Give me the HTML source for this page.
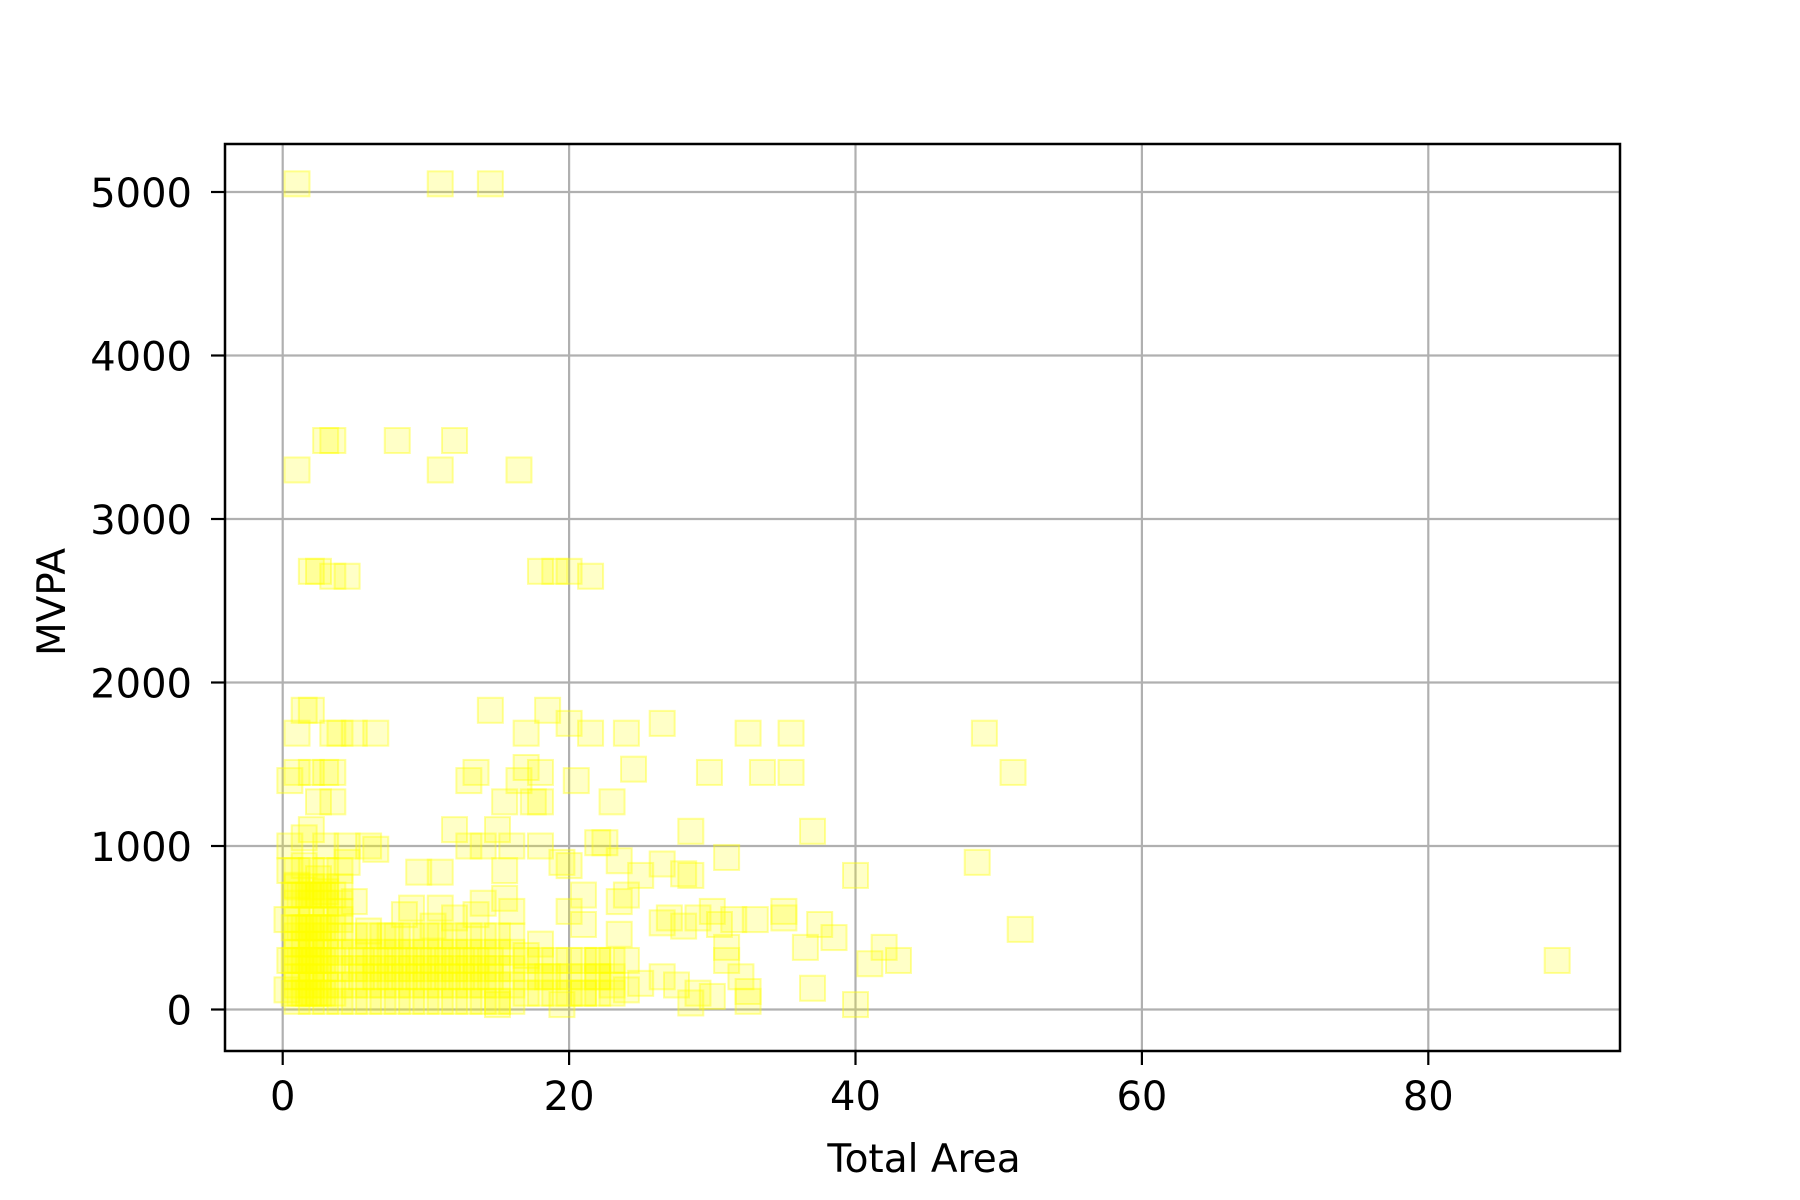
<!DOCTYPE html>
<html><head><meta charset="utf-8"><style>
body{margin:0;background:#fff;}
svg{display:block;font-family:"DejaVu Sans","Liberation Sans",sans-serif;}
</style></head><body>
<svg id="chart" width="1800" height="1200">
<g id="grid"></g>
<g id="marks"></g>
<rect x="225" y="144" width="1395" height="907" fill="none" stroke="#000" stroke-width="2.5"/>
<g id="ticks"></g>
<text x="924" y="1172" font-size="39" text-anchor="middle">Total Area</text>
<text x="0" y="0" font-size="39" text-anchor="middle" transform="translate(65,602) rotate(-90)">MVPA</text>
</svg>
<script>
const xTicks=[0,20,40,60,80];
const yTicks=[0,1000,2000,3000,4000,5000];
const xOut=[1,11,14.5,1,3,3.5,8,12,11,16.5,2,2.5,3.5,4.5,18,19,20,21.5,1.5,2,14.5,18.5,1,3.5,4,5,6.5,17,20,21.5,24,26.5,32.5,35.5,49,0.5,1,2,3,3.5,13.5,17,18,24.5,29.8,33.5,35.5,51,13,16.5,20.5,2.5,3.5,15.5,17.5,18,23];
const yOut=[5050,5050,5050,3300,3480,3480,3480,3480,3300,3300,2680,2680,2650,2650,2680,2680,2680,2650,1830,1830,1830,1830,1690,1690,1690,1690,1690,1690,1750,1690,1690,1750,1690,1690,1690,1400,1450,1450,1450,1450,1450,1480,1450,1470,1450,1450,1450,1450,1400,1400,1400,1270,1270,1270,1270,1270,1270];
const xMid=[12,15,28.5,37,13,14,16,18,22,22.5,4.5,6,6.5,0.5,1.5,2,3,4.5,9.5,11,15.5,20,19.5,23.5,26.5,28,28.5,31,40,48.5,42,41,43,51.5,89,40,37,38.5,36.5,37.5,35,35,33,31.5,30,29,27,26.5,28,30.5,31,31,32,32.5,32.5,30,29,28.5,27.5,26.5,25,24,24,23.5,24,23.5,25,21,21,20,22,22,23,21,19.5,18.5,18,17,16,15.5,15,14,13.5,12,11,10.5,9,8.5,7.5,6,5,4,3,2.5,1.5,1,0.5,0.3,0.5,0.3];
const yMid=[1100,1100,1090,1090,1000,1000,1000,1000,1020,1020,1000,1000,980,1000,1050,1100,1000,900,840,840,850,880,900,910,890,830,820,930,820,900,380,280,300,490,300,30,130,440,380,520,560,600,550,550,600,560,560,530,510,520,380,300,200,110,50,80,100,40,150,200,160,120,300,460,700,660,820,700,520,600,300,200,150,100,30,200,400,330,600,680,30,650,580,560,620,510,620,580,450,480,660,600,720,800,880,760,850,550,300,120];
const xDense=[1,1,1,1,1,1,1,1,1,2,2,2,2,2,2,2,2,2,3,3,3,3,3,3,3,3,3,4,4,4,4,4,4,4,4,4,1.5,1.5,1.5,1.5,2.5,2.5,2.5,2.5,3.5,3.5,3.5,3.5,5,5,5,5,5,6,6,6,6,6,7,7,7,7,7,8,8,8,8,8,9,9,9,9,9,10,10,10,10,10,11,11,11,11,11,12,12,12,12,12,13,13,13,13,13,14,14,14,14,14,15,15,15,15,15,16,16,16,16,16,17,17,17,18,18,18,19,19,19,20,20,20,21,21,21,22,22,22,23,23,23];
const yDense=[50,150,250,350,450,550,650,750,850,50,150,250,350,450,550,650,750,850,50,150,250,350,450,550,650,750,850,50,150,250,350,450,550,650,750,850,100,300,500,700,100,300,500,700,100,300,500,700,50,150,250,350,450,50,150,250,350,450,50,150,250,350,450,50,150,250,350,450,50,150,250,350,450,50,150,250,350,450,50,150,250,350,450,50,150,250,350,450,50,150,250,350,450,50,150,250,350,450,50,150,250,350,450,50,150,250,350,450,100,200,300,100,200,300,100,200,300,100,200,300,100,200,300,100,200,300,100,200,300];
const xCore=[0.8,1.2,1.8,2.2,2.8,0.8,1.2,1.8,2.2,2.8,0.8,1.2,1.8,2.2,2.8,0.8,1.2,1.8,2.2,2.8,1,1.5,2,2.5,1,1.5,2,2.5,5.5,6.5,7.5,8.5,9.5,10.5,11.5,12.5,13.5,14.5,5.5,6.5,7.5,8.5,9.5,10.5,11.5,12.5,13.5,14.5];
const yCore=[100,100,100,100,100,300,300,300,300,300,500,500,500,500,500,700,700,700,700,700,200,200,200,200,400,400,400,400,200,200,200,200,200,200,200,200,200,200,300,300,300,300,300,300,300,300,300,300];
const xVals=xOut.concat(xMid,xDense,xCore);
const yVals=yOut.concat(yMid,yDense,yCore);

const X0=225,X1=1620,Y0=1051,Y1=144;
function xScale(v){return 282.7+v*14.32;}
function yScale(v){return 1009.5-v*0.1635;}
const NS='http://www.w3.org/2000/svg';
const grid=document.getElementById('grid'),ticks=document.getElementById('ticks'),marks=document.getElementById('marks');
function mk(tag,attrs,parent){const e=document.createElementNS(NS,tag);for(const k in attrs)e.setAttribute(k,attrs[k]);parent.appendChild(e);return e;}
xTicks.forEach(t=>{
  const x=xScale(t);
  const g=mk('line',{x1:x,x2:x,y1:Y1,y2:Y0,stroke:'#b0b0b0','stroke-width':2.2},grid);
  
  
  const tk=mk('line',{x1:x,x2:x,y1:Y0,y2:Y0+14,stroke:'#000','stroke-width':2.2},ticks);
  
  
  const tx=mk('text',{x:x,y:1110,'font-size':40,'text-anchor':'middle'},ticks);
  tx.textContent=t;
  
  
});
yTicks.forEach(t=>{
  const y=yScale(t);
  const g=mk('line',{x1:X0,x2:X1,y1:y,y2:y,stroke:'#b0b0b0','stroke-width':2.2},grid);
  
  
  const tk=mk('line',{x1:X0-14,x2:X0,y1:y,y2:y,stroke:'#000','stroke-width':2.2},ticks);
  
  
  const tx=mk('text',{x:192,y:y+15,'font-size':40,'text-anchor':'end'},ticks);
  tx.textContent=t;
  
  
});
const S=25;
for(let i=0;i<xVals.length;i++){
  const r=mk('rect',{x:xScale(xVals[i])-S/2,y:yScale(yVals[i])-S/2,width:S,height:S,fill:'rgba(255,255,0,0.22)',stroke:'rgba(255,255,0,0.38)','stroke-width':2},marks);
  
  
}
</script>
</body></html>
